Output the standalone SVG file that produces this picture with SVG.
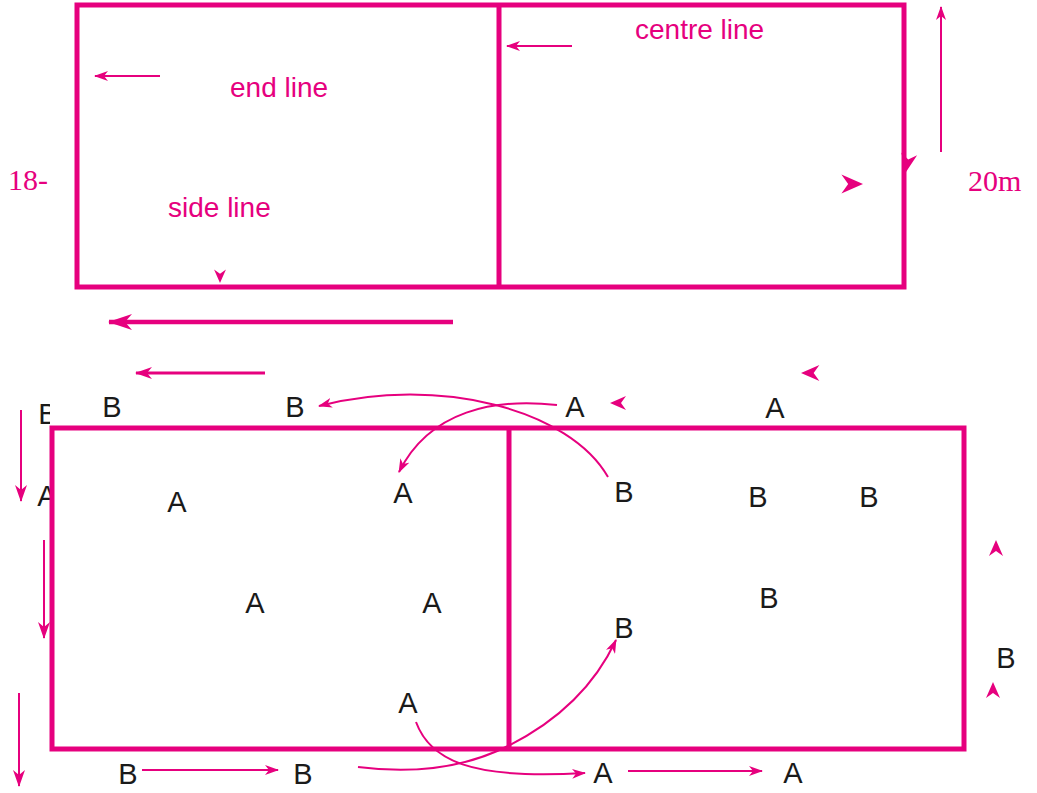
<svg xmlns="http://www.w3.org/2000/svg" width="1037" height="793" viewBox="0 0 1037 793">
<style>
.court{fill:#fff;stroke:#e6007e;stroke-width:5}
.cl{stroke:#e6007e;stroke-width:5}
.lbl{font-family:"Liberation Sans",Arial,sans-serif;font-size:28px;fill:#e6007e}
.dim{font-family:"Liberation Serif","Times New Roman",serif;font-size:30px;fill:#e6007e}
.p{font-family:"Liberation Sans",Arial,sans-serif;font-size:29px;fill:#1a1a1a;text-anchor:middle}
.a{fill:none;stroke:#e6007e;stroke-width:2}
.ah{fill:#e6007e}
</style>
<defs>
<marker id="mt" markerUnits="userSpaceOnUse" markerWidth="14" markerHeight="10" refX="13" refY="5" orient="auto" viewBox="0 0 14 10">
<path d="M14,5 L0,0 L4,5 L0,10 z" fill="#e6007e"/>
</marker>
<marker id="mm" markerUnits="userSpaceOnUse" markerWidth="17" markerHeight="12" refX="16" refY="6" orient="auto" viewBox="0 0 17 12">
<path d="M17,6 L0,0 L5,6 L0,12 z" fill="#e6007e"/>
</marker>
<marker id="mb" markerUnits="userSpaceOnUse" markerWidth="24" markerHeight="16" refX="23" refY="8" orient="auto" viewBox="0 0 24 16">
<path d="M24,8 L0,0 L7,8 L0,16 z" fill="#e6007e"/>
</marker>
<path id="head" d="M0,0 L-16,-7 L-11,0 L-16,7 z" fill="#e6007e"/>
<clipPath id="edge"><rect x="0" y="380" width="50" height="150"/></clipPath>
</defs>

<g id="left-labels" clip-path="url(#edge)">
<text class="p" x="48" y="424">B</text>
<text class="p" x="47" y="506">A</text>
</g>

<g id="top-court">
<rect class="court" x="77" y="5" width="827" height="282"/>
<line class="cl" x1="499" y1="5" x2="499" y2="287"/>
<text class="lbl" x="635" y="39">centre line</text>
<text class="lbl" x="230" y="97">end line</text>
<text class="lbl" x="168" y="217">side line</text>
</g>

<g id="dimensions">
<text class="dim" x="8" y="190">18-</text>
<text class="dim" x="968" y="191">20m</text>
</g>

<g id="bottom-court">
<rect class="court" x="52" y="428" width="912" height="321"/>
<line class="cl" x1="509" y1="428" x2="509" y2="749"/>
</g>

<g id="players">
<text class="p" x="112" y="417">B</text>
<text class="p" x="295" y="417">B</text>
<text class="p" x="575" y="417">A</text>
<text class="p" x="775" y="418">A</text>
<text class="p" x="177" y="512">A</text>
<text class="p" x="403" y="503">A</text>
<text class="p" x="255" y="613">A</text>
<text class="p" x="432" y="613">A</text>
<text class="p" x="408" y="713">A</text>
<text class="p" x="624" y="502">B</text>
<text class="p" x="758" y="507">B</text>
<text class="p" x="869" y="507">B</text>
<text class="p" x="769" y="608">B</text>
<text class="p" x="624" y="638">B</text>
<text class="p" x="1006" y="668">B</text>
<text class="p" x="128" y="784">B</text>
<text class="p" x="303" y="784">B</text>
<text class="p" x="603" y="783">A</text>
<text class="p" x="793" y="783">A</text>
</g>

<g id="connectors">
<line class="a" x1="160" y1="76" x2="95" y2="76" marker-end="url(#mt)"/>
<line class="a" x1="572" y1="46" x2="507" y2="46" marker-end="url(#mt)"/>
<line class="a" x1="941" y1="152" x2="941" y2="7" marker-end="url(#mt)"/>
<line class="a" x1="453" y1="322" x2="109" y2="322" style="stroke-width:4.5" marker-end="url(#mb)"/>
<line class="a" x1="265" y1="373" x2="136" y2="373" style="stroke-width:2.8" marker-end="url(#mm)"/>
<line class="a" x1="21" y1="410" x2="21" y2="501" marker-end="url(#mm)"/>
<line class="a" x1="44" y1="540" x2="44" y2="638" marker-end="url(#mm)"/>
<line class="a" x1="19" y1="693" x2="19" y2="786" marker-end="url(#mm)"/>
<line class="a" x1="142" y1="770" x2="278" y2="770" marker-end="url(#mt)"/>
<line class="a" x1="628" y1="771" x2="762" y2="771" marker-end="url(#mt)"/>
<path class="a" d="M557,405 C495,398 430,410 399,472" marker-end="url(#mt)"/>
<path class="a" d="M608,477 C570,410 440,375 319,406" marker-end="url(#mt)"/>
<path class="a" d="M358,767 C420,775 470,765 508,746 C560,720 595,685 616,640" marker-end="url(#mt)"/>
<path class="a" d="M416,722 C430,760 470,780 585,773" marker-end="url(#mt)"/>
<use href="#head" transform="translate(220,283) rotate(90) scale(0.85)"/>
<use href="#head" transform="translate(863,184) scale(1.35)"/>
<use href="#head" transform="translate(906,172) rotate(100) scale(1.15)"/>
<use href="#head" transform="translate(801,373) rotate(180) scale(1.15)"/>
<use href="#head" transform="translate(610,403) rotate(180) scale(1)"/>
<use href="#head" transform="translate(996,540) rotate(-90) scale(1)"/>
<use href="#head" transform="translate(993,682) rotate(-90) scale(1)"/>
</g>
</svg>
